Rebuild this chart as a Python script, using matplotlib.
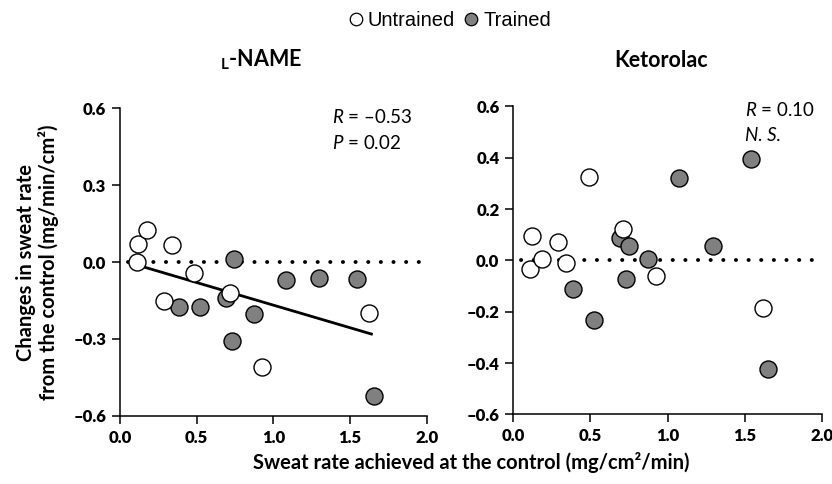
import numpy as np
import matplotlib
matplotlib.use("Agg")
import matplotlib.pyplot as plt

plt.rcParams['font.family'] = ['Lato', 'DejaVu Sans']
plt.rcParams['font.weight'] = 'bold'
plt.rcParams['mathtext.fontset'] = 'custom'
plt.rcParams['mathtext.rm'] = 'Lato:weight=normal'
plt.rcParams['mathtext.it'] = 'Lato:style=italic:weight=normal'
plt.rcParams['mathtext.bf'] = 'Lato:weight=bold'

# L-NAME panel
lname_untr_x = [0.109, 0.115, 0.178, 0.337, 0.287, 0.485, 0.717, 0.926, 1.626]
lname_untr_y = [0.000, 0.072, 0.126, 0.065, -0.150, -0.041, -0.120, -0.411, -0.198]
lname_tr_x = [0.385, 0.522, 0.689, 0.746, 0.728, 0.874, 1.081, 1.300, 1.544, 1.657]
lname_tr_y = [-0.174, -0.176, -0.141, 0.012, -0.309, -0.202, -0.069, -0.061, -0.065, -0.523]

# Ketorolac panel
keto_untr_x = [0.119, 0.106, 0.184, 0.292, 0.342, 0.491, 0.713, 0.925, 1.621]
keto_untr_y = [0.097, -0.035, 0.007, 0.070, -0.012, 0.326, 0.121, -0.062, -0.187]
keto_tr_x = [0.389, 0.523, 0.692, 0.750, 0.729, 0.876, 1.077, 1.297, 1.541, 1.654]
keto_tr_y = [-0.110, -0.232, 0.086, 0.055, -0.074, 0.005, 0.323, 0.057, 0.395, -0.422]

lname_yticks = [-0.6, -0.3, 0.0, 0.3, 0.6]
keto_yticks = [-0.6, -0.4, -0.2, 0.0, 0.2, 0.4, 0.6]
xticks = [0.0, 0.5, 1.0, 1.5, 2.0]

fig = plt.figure(figsize=(8.32, 4.84), dpi=100)
ax1 = fig.add_axes([0.1442, 0.141, 0.3686, 0.635])
ax2 = fig.add_axes([0.617, 0.144, 0.3707, 0.636])

def style(ax, yticks):
    ax.set_xlim(0, 2.0)
    ax.set_ylim(-0.6, 0.6)
    ax.set_xticks(xticks)
    ax.set_yticks(yticks)
    ax.set_xticklabels([f"{t:.1f}" for t in xticks], fontweight='heavy', fontsize=12)
    ax.set_yticklabels([f"{t:.1f}".replace("-", "\u2013") for t in yticks],
                       fontweight='heavy', fontsize=12)
    for s in ['top', 'right']:
        ax.spines[s].set_visible(False)
    for s in ['left', 'bottom']:
        ax.spines[s].set_linewidth(1.1)
    ax.tick_params(direction='out', length=6, width=1.1, pad=4)
    ax.plot([0.05, 2.0], [0, 0], color='black', lw=2.8, linestyle=(0, (0.05, 3.2)),
            dash_capstyle='round', zorder=1)

for ax, yt, ux, uy, tx, ty in [(ax1, lname_yticks, lname_untr_x, lname_untr_y, lname_tr_x, lname_tr_y),
                                (ax2, keto_yticks, keto_untr_x, keto_untr_y, keto_tr_x, keto_tr_y)]:
    style(ax, yt)
    ax.scatter(tx, ty, s=150, facecolor='#808080', edgecolor='black', linewidth=1.0, zorder=3)
    ax.scatter(ux, uy, s=150, facecolor='white', edgecolor='black', linewidth=1.0, zorder=4)

# regression line for L-NAME (all subjects)
all_x = np.array(lname_untr_x + lname_tr_x)
all_y = np.array(lname_untr_y + lname_tr_y)
k, b = np.polyfit(all_x, all_y, 1)
xs = np.array([0.14, 1.64])
ax1.plot(xs, k * xs + b, color='black', lw=2.0, zorder=2)

ax1.text(0.69, 0.973, "$\\it{R}$ = \u20130.53", transform=ax1.transAxes, fontsize=13.5,
         va='center', fontweight='normal')
ax1.text(0.69, 0.886, "$\\it{P}$ = 0.02", transform=ax1.transAxes, fontsize=13.5,
         va='center', fontweight='normal')
ax2.text(0.751, 0.989, "$\\it{R}$ = 0.10", transform=ax2.transAxes, fontsize=13.5,
         va='center', fontweight='normal')
ax2.text(0.751, 0.905, "N. S.", transform=ax2.transAxes, fontsize=13.5, va='center',
         style='italic', fontweight='normal')

ax1.set_ylabel("Changes in sweat rate\nfrom the control (mg/min/cm\u00b2)", fontsize=14.5,
               fontweight='bold', linespacing=1.1)
ax1.yaxis.set_label_coords(-0.2, 0.5)
fig.text(0.566, 0.045, "Sweat rate achieved at the control (mg/cm\u00b2/min)", fontsize=14.5,
         fontweight='bold', ha='center', va='center')

fig.text(0.314, 0.876, "$_{\\mathbf{L}}$-NAME", fontsize=15.5, fontweight='bold', ha='center', va='center')
fig.text(0.795, 0.876, "Ketorolac", fontsize=15.5, fontweight='bold', ha='center', va='center')

h1 = plt.Line2D([], [], marker='o', ls='none', markerfacecolor='white', markeredgecolor='black',
                markersize=9, markeredgewidth=0.9)
h2 = plt.Line2D([], [], marker='o', ls='none', markerfacecolor='#808080', markeredgecolor='black',
                markersize=9, markeredgewidth=0.9)
fig.legend([h1, h2], ["Untrained", "Trained"], loc='center', bbox_to_anchor=(0.539, 0.958), ncol=2,
           frameon=False, handletextpad=0.1, columnspacing=0.3, handlelength=1.0,
           prop={'family': 'Liberation Sans', 'size': 14.5, 'weight': 'normal'})

fig.savefig("out.png", dpi=100)
